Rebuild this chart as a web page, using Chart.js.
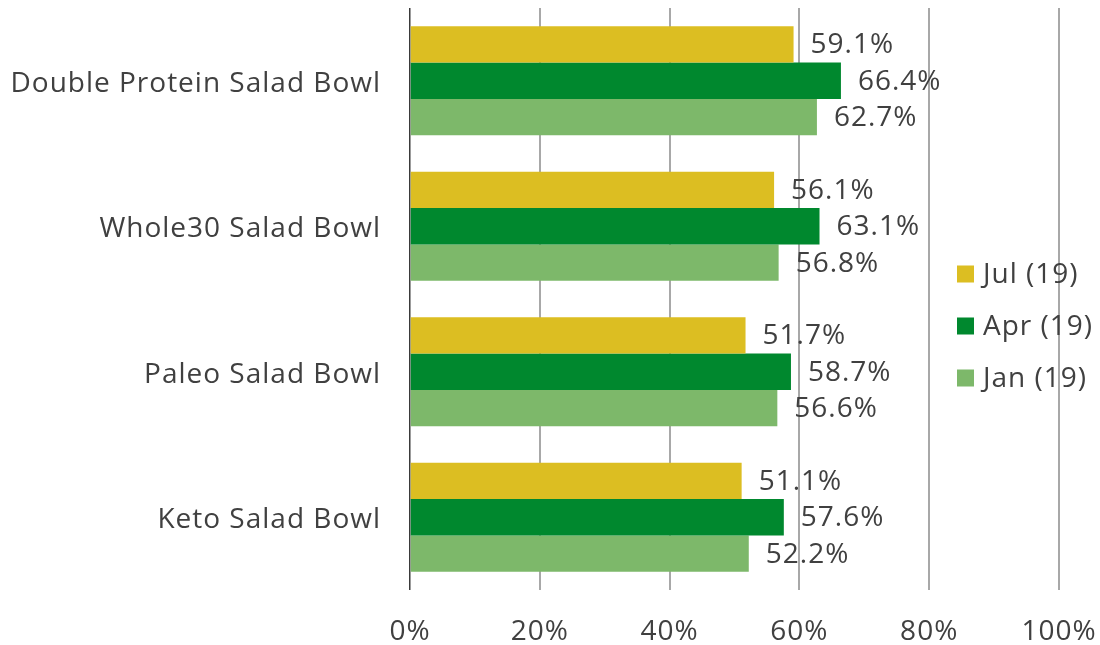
<!DOCTYPE html>
<html>
<head>
<meta charset="utf-8">
<script src="https://cdn.jsdelivr.net/npm/chart.js@4.4.1/dist/chart.umd.min.js"></script>
<style>
html,body{margin:0;padding:0;background:#fff;}
#wrap{width:1100px;height:645px;position:relative;}
</style>
</head>
<body>
<div id="wrap"><canvas id="c" width="1100" height="645"></canvas></div>
<script>
const categories = ["Double Protein Salad Bowl", "Whole30 Salad Bowl", "Paleo Salad Bowl", "Keto Salad Bowl"];
const seriesNames = ["Jul (19)", "Apr (19)", "Jan (19)"];
const jul = [59.1, 56.1, 51.7, 51.1];
const apr = [66.4, 63.1, 58.7, 57.6];
const jan = [62.7, 56.8, 56.6, 52.2];
const xTicks = [0, 20, 40, 60, 80, 100];
const colors = ["#DCBE22", "#00882E", "#7DB86A"];

const FONT = "'Open Sans', Lato, sans-serif";
const WEIGHT = 400;
const SIZE = 28;
const TEXT = "#404040";
const SPACING = '1px';

const spacingPlugin = {
  id: 'spacing',
  beforeDraw(chart) { chart.ctx.letterSpacing = SPACING; }
};

const valueLabels = {
  id: 'valueLabels',
  afterDatasetsDraw(chart) {
    const ctx = chart.ctx;
    ctx.save();
    ctx.letterSpacing = SPACING;
    ctx.font = WEIGHT + " " + SIZE + "px " + FONT;
    ctx.fillStyle = TEXT;
    ctx.textAlign = 'left';
    ctx.textBaseline = 'middle';
    chart.data.datasets.forEach((ds, i) => {
      const meta = chart.getDatasetMeta(i);
      meta.data.forEach((bar, j) => {
        ctx.fillText(ds.data[j].toFixed(1) + '%', bar.x + 17, bar.y + 1);
      });
    });
    ctx.restore();
  }
};

const sideLegend = {
  id: 'sideLegend',
  afterDraw(chart) {
    const ctx = chart.ctx;
    ctx.save();
    ctx.letterSpacing = SPACING;
    ctx.font = WEIGHT + " " + SIZE + "px " + FONT;
    ctx.textAlign = 'left';
    ctx.textBaseline = 'middle';
    const x0 = 957, y0 = 274, step = 52, box = 17;
    chart.data.datasets.forEach((ds, i) => {
      const cy = y0 + i * step;
      ctx.fillStyle = ds.backgroundColor;
      ctx.fillRect(x0, cy - box / 2, box, box);
      ctx.fillStyle = TEXT;
      ctx.fillText(ds.label, x0 + 26, cy + 1);
    });
    ctx.restore();
  }
};

new Chart(document.getElementById('c'), {
  type: 'bar',
  data: {
    labels: categories,
    datasets: [
      { label: seriesNames[0], data: jul, backgroundColor: colors[0] },
      { label: seriesNames[1], data: apr, backgroundColor: colors[1] },
      { label: seriesNames[2], data: jan, backgroundColor: colors[2] }
    ]
  },
  options: {
    indexAxis: 'y',
    responsive: false,
    animation: false,
    devicePixelRatio: 1,
    layout: { padding: { top: 8, right: 41, left: 0, bottom: 0 } },
    datasets: { bar: { categoryPercentage: 0.75, barPercentage: 1.0, borderWidth: 0 } },
    plugins: { legend: { display: false }, tooltip: { enabled: false } },
    scales: {
      x: {
        min: 0, max: 100,
        afterBuildTicks(scale) { scale.ticks = xTicks.map(v => ({ value: v })); },
        afterFit(scale) { scale.height = 55; scale.paddingLeft = 0; scale.paddingRight = 0; scale.paddingTop = 0; scale.paddingBottom = 0; },
        grid: {
          drawTicks: false,
          color: ctx => (ctx.tick && ctx.tick.value === 0) ? '#3a3a3a' : '#a8a8a8',
          lineWidth: ctx => (ctx.tick && ctx.tick.value === 0) ? 1.5 : 2
        },
        border: { display: false },
        ticks: {
          font: { family: FONT, size: SIZE, weight: WEIGHT },
          color: TEXT,
          padding: 25,
          maxRotation: 0,
          callback: v => v + '%'
        }
      },
      y: {
        afterFit(scale) { scale.width = 410; scale.paddingTop = 0; scale.paddingBottom = 0; scale.paddingLeft = 0; scale.paddingRight = 0; },
        grid: { display: false, drawTicks: false },
        border: { display: false },
        ticks: {
          font: { family: FONT, size: SIZE, weight: WEIGHT },
          color: TEXT,
          padding: 29,
          labelOffset: 3
        }
      }
    }
  },
  plugins: [spacingPlugin, valueLabels, sideLegend]
});
</script>
</body>
</html>
